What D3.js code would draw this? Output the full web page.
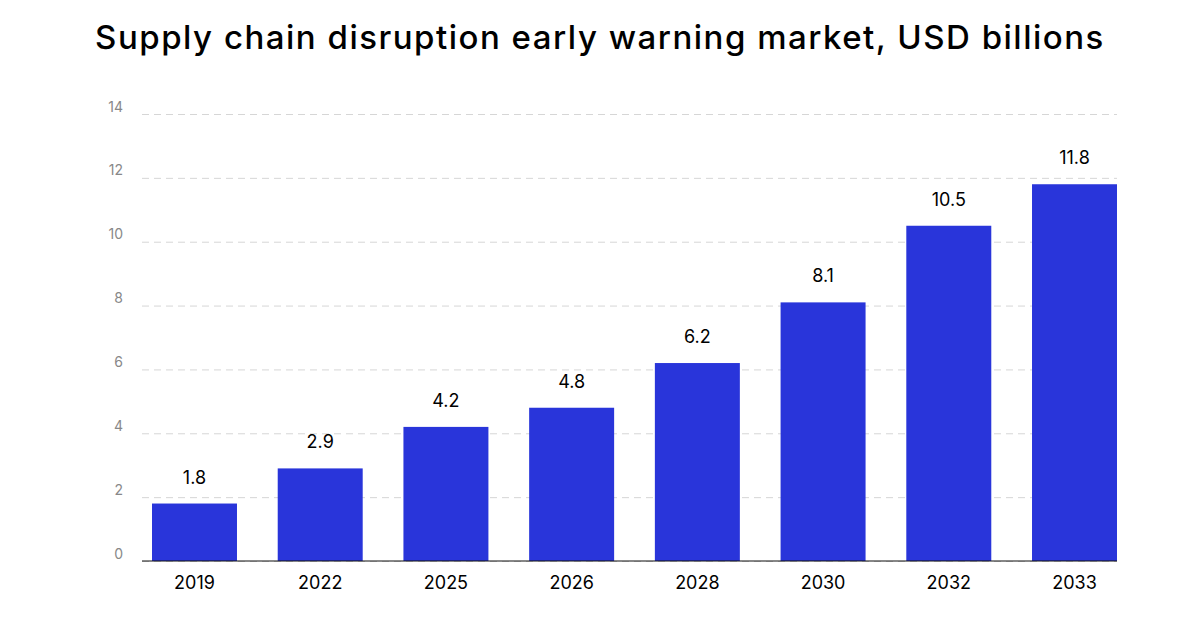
<!DOCTYPE html>
<meta charset="utf-8">
<script src="https://d3js.org/d3.v7.min.js"></script>
<style>
  body { margin: 0; background: #fff; }
  text { font-family: Inter, "Noto Sans", sans-serif; }
</style>
<body>
<div id="chart"></div>
<script>
// data
var years  = ["2019", "2022", "2025", "2026", "2028", "2030", "2032", "2033"];
var values = [1.8, 2.9, 4.2, 4.8, 6.2, 8.1, 10.5, 11.8];
var yTicks = [0, 2, 4, 6, 8, 10, 12, 14];
var title  = "Supply chain disruption early warning market, USD billions";

var W = 1200, H = 630;
var plotLeft = 142, plotRight = 1117, plotTop = 114, plotBottom = 561;

var svg = d3.select("#chart").append("svg")
    .attr("width", W)
    .attr("height", H);

svg.append("text")
    .attr("x", W / 2)
    .attr("y", 49)
    .attr("text-anchor", "middle")
    .style("font-size", "33px")
    .style("font-weight", 500)
    .style("letter-spacing", "1.5px")
    .style("fill", "#000")
    .text(title);

var x = d3.scaleBand()
    .domain(years)
    .range([152, plotRight])
    .paddingInner(0.324)
    .paddingOuter(0);

var y = d3.scaleLinear()
    .domain([0, 14])
    .range([plotBottom, plotTop]);

// gridlines + tick labels
var yAxis = svg.append("g")
    .attr("transform", "translate(" + plotLeft + ",0)")
    .call(d3.axisLeft(y).tickValues(yTicks).tickSize(-(plotRight - plotLeft)).tickPadding(19));

yAxis.select(".domain").remove();
yAxis.selectAll(".tick line")
    .attr("stroke", "#d6d6d6")
    .attr("stroke-dasharray", "7,5");
yAxis.selectAll(".tick text")
    .attr("dy", "-3")
    .style("font-family", "Inter, sans-serif")
    .style("font-size", "14px")
    .style("fill", "#888");

// bars
svg.selectAll("rect.bar")
    .data(values)
    .enter()
    .append("rect")
    .attr("class", "bar")
    .attr("x", function(d, i) { return x(years[i]); })
    .attr("y", function(d) { return y(d); })
    .attr("width", x.bandwidth())
    .attr("height", function(d) { return y(0) - y(d); })
    .attr("fill", "#2935da");

// value labels
svg.selectAll("text.val")
    .data(values)
    .enter()
    .append("text")
    .attr("class", "val")
    .attr("x", function(d, i) { return x(years[i]) + x.bandwidth() / 2; })
    .attr("y", function(d) { return y(d) - 20; })
    .attr("text-anchor", "middle")
    .style("font-size", "18px")
    .style("fill", "#000")
    .text(function(d) { return d.toFixed(1); });

// baseline
svg.append("line")
    .attr("x1", plotLeft)
    .attr("x2", plotRight)
    .attr("y1", y(0))
    .attr("y2", y(0))
    .attr("stroke", "#111")
    .attr("stroke-width", 1.2);

// year labels
var xAxis = svg.append("g")
    .attr("transform", "translate(0," + plotBottom + ")")
    .call(d3.axisBottom(x).tickSize(0).tickPadding(15));
xAxis.select(".domain").remove();
xAxis.selectAll(".tick text")
    .style("font-family", "Inter, sans-serif")
    .style("font-size", "18px")
    .style("fill", "#000");
</script>
</body>
